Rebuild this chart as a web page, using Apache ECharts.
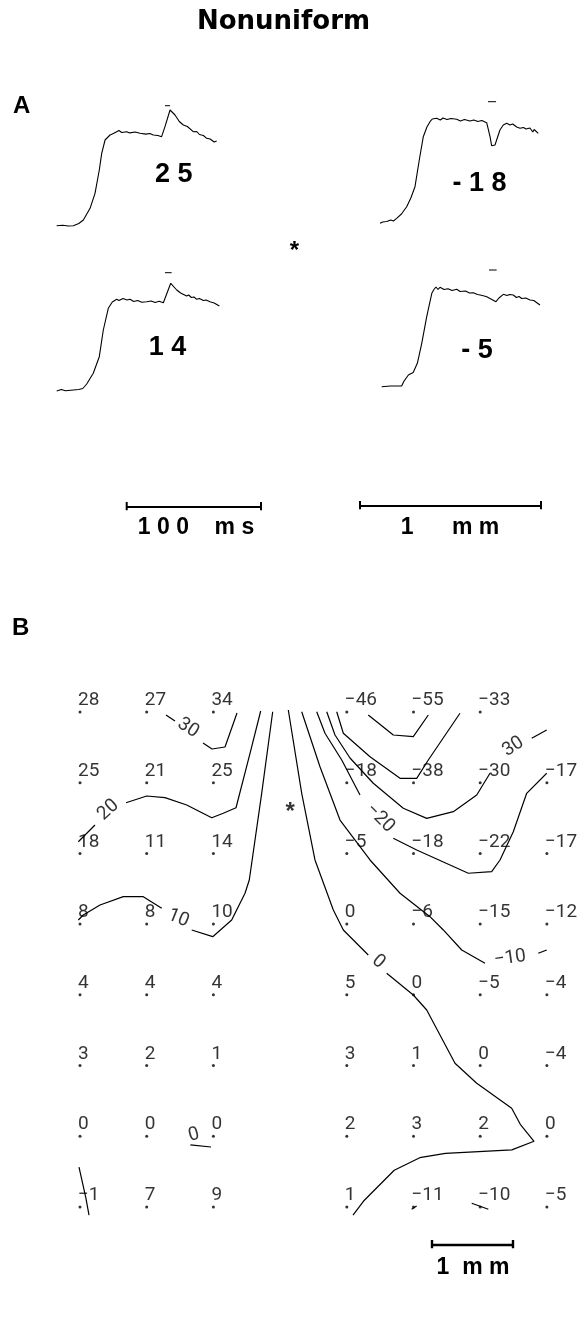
<!DOCTYPE html>
<html><head><meta charset="utf-8">
<script src="https://cdn.jsdelivr.net/npm/echarts@6/dist/echarts.min.js"></script>
<style>html,body{margin:0;padding:0;background:#fff}#c{width:586px;height:1341px}</style>
</head><body><div id="c"></div>
<script>
// ---------- Panel A: optical traces (time in ms, amplitude in a.u. above baseline) ----------
const trace25 = [[3.5,-0.2],[8,0.3],[12,-0.5],[15.9,-0.2],[20,2],[23.4,5.5],[28.4,17.2],[32.1,32.2],[35.3,55.5],[37.1,72.2],[39.6,85.5],[43.3,90.5],[45,91.5],[48.3,93.8],[50,95],[52,93],[55.7,93.8],[58,92.6],[62,93.5],[65.7,92.2],[70,91.4],[73,92],[75.6,90.5],[79,90],[81.8,88.8],[84.3,98.8],[88.1,115.5],[91.8,110.5],[95,104],[98,100.5],[101,99],[105.4,93.8],[108,94],[110,91],[113,90],[115.4,87.2],[118,86.5],[121,83.5],[122.9,84.5]];
const traceM18 = [[3.0,-1.3],[5,0],[8,0.5],[11,2],[13,1],[15.4,3.7],[19,8],[22.9,15.3],[26,24],[29.1,35.3],[32.3,62],[35.3,85.3],[38,95],[40.3,100.3],[42,103],[45.3,103.7],[48,102],[50,104],[53,102.5],[56,103.5],[60.2,102.7],[63,101],[66,102.5],[70.1,101],[73,102],[76,100.5],[79,101.5],[82.6,99.3],[85.1,85.3],[86.3,76.3],[88.8,77],[92.5,92],[95,97],[97.5,98.7],[100,97],[102,98],[105,95],[107.5,93.7],[110,94.5],[112,93],[114.9,94],[117,90],[118,92.5],[121.1,88.7]];
const trace14 = [[3.5,-1],[7,0.5],[10,-0.8],[15.9,0],[20,0.5],[23,1.5],[25.9,6],[30.8,16.7],[35.3,33.3],[38.3,60],[42.0,81.7],[45,88],[48.3,90.7],[50,89.5],[53,91.5],[56,90],[58.2,90.7],[61,88.5],[64,89.5],[67,87.8],[70.7,88.3],[74,89],[77,87.5],[80,88.8],[83.1,87.3],[88.6,106.7],[93.1,100],[96,97],[100.5,94],[102,95],[104,92.5],[106,93],[108.0,90.7],[110,91.5],[113,89.5],[115,90],[117.9,88.3],[121,87],[124.9,84]];
const traceM5 = [[3.5,-0.2],[10,0.5],[18.4,0.5],[20,5],[23.4,11.5],[27,14],[30.1,23.2],[33.4,43.2],[37.1,69.8],[40.9,93.2],[42.5,97],[44,99.5],[45.5,97],[47.0,99.2],[50,97],[53,97.8],[56,96],[59.5,97.2],[62,95],[66,95.5],[69,93.5],[71.9,93.8],[75,92],[77,91.5],[80,90.5],[81.9,89.8],[88.8,84.8],[91,88.5],[94.3,92.2],[97,91],[99,92],[101.7,91.5],[104,89],[106,90],[108,88],[111,88.5],[114.2,86.5],[117,86],[121.6,81.5]];
const traceValues = [25, -18, 14, -5];
const stimulusMarks = [[[84.3,119.8],[88.1,119.8]], [[83.6,120.3],[89.6,120.3]], [[84.3,117.3],[89.3,117.3]], [[83.6,116.5],[89.3,116.5]]];
const timeBarMs = [0, 100];
const spaceBarMm = [0, 1];
const timeBarLabel = '1 0 0    m s';
const spaceBarLabelA = '1      m m';
const spaceBarLabelB = '1  m m';

// ---------- Panel B: electrode grid (rows x columns), column 4 empty ----------
const gridValues = [
  [28, 27, 34, null, -46, -55, -33, null],
  [25, 21, 25, null, -18, -38, -30, -17],
  [18, 11, 14, null, -5, -18, -22, -17],
  [8, 8, 10, null, 0, -6, -15, -12],
  [4, 4, 4, null, 5, 0, -5, -4],
  [3, 2, 1, null, 3, 1, 0, -4],
  [0, 0, 0, null, 2, 3, 2, 0],
  [-1, 7, 9, null, 1, -11, -10, -5]
];
// contour lines in grid units [column, row]; each level = list of segments
const iso30 = [[[1.289,0.042],[1.424,0.127]], [[1.844,0.438],[1.979,0.523],[2.174,0.495],[2.354,0.014]]];
const iso20 = [[[-0.025,1.835],[0.225,1.598]], [[0.690,1.283],[1.0,1.188],[1.274,1.212],[1.600,1.315],[1.975,1.495],[2.148,1.433],[2.339,1.354],[2.549,0.584],[2.709,-0.014]]];
const iso10 = [[[-0.025,2.942],[0.049,2.871],[0.300,2.730],[0.649,2.612],[0.949,2.612],[1.225,2.777]], [[1.675,3.083],[1.990,3.178],[2.274,2.942],[2.373,2.754],[2.474,2.564],[2.538,2.376],[2.724,1.150],[2.889,-0.004]]];
const iso0 = [[[3.123,-0.028],[3.324,1.150],[3.523,2.093],[3.798,2.801],[3.948,3.083],[4.322,3.437]], [[4.598,3.696],[4.997,4.003],[5.198,4.215],[5.622,4.969],[5.948,5.252],[6.472,5.605],[6.601,5.832],[6.807,6.072],[6.474,6.194],[5.478,6.242],[5.094,6.304],[4.711,6.482],[4.252,6.917],[4.093,7.115]], [[-0.015,6.436],[0.087,6.868],[0.135,7.115]], [[1.655,6.124],[1.964,6.153]]];
const isoM10 = [[[3.324,-0.004],[3.598,0.774],[3.898,1.528],[4.348,2.093],[4.798,2.564],[5.247,2.895],[5.447,3.083],[5.723,3.366],[6.072,3.554]], [[6.871,3.413],[6.997,3.366]], [[4.972,7.035],[5.047,6.988]], [[5.873,6.949],[6.122,7.034]]];
const isoM20 = [[[3.549,-0.004],[3.673,0.301],[3.924,0.679],[4.198,1.174]], [[4.697,1.786],[5.048,1.952],[5.822,2.281],[6.172,2.259],[6.297,2.093],[6.496,1.693],[6.697,1.150],[6.997,0.867]]];
const isoM30 = [[[3.699,-0.004],[3.823,0.325],[4.048,0.651],[4.397,1.008],[4.847,1.362],[5.198,1.504],[5.597,1.410],[5.948,1.174],[6.147,0.867]], [[6.772,0.372],[6.997,0.255]]];
const isoM40 = [[[3.849,-0.004],[3.948,0.301],[4.348,0.632],[4.798,0.938],[5.048,0.938],[5.222,0.679],[5.697,0.018]]];
const isoM50 = [[[4.322,0.042],[4.697,0.325],[4.997,0.349],[5.222,0.042]]];
const contourLabels = [[1.619,0.226,'30',-33],[0.424,1.386,'20',42],[1.474,2.918,'10',-22],[4.472,3.532,'0',-40],[6.447,3.484,'\u221210',8],[4.498,1.504,'\u221220',-45],[6.496,0.491,'30',33],[1.709,5.983,'0',15]];
const stimulusSite = [3.15, 1.34];

// ---------- layout ----------
const traceGrids = [
  {left: 52, top: 100.5, width: 174.2, height: 130},
  {left: 376, top: 97, width: 174.2, height: 130},
  {left: 52, top: 265, width: 174.2, height: 130},
  {left: 377, top: 261.5, width: 174.2, height: 130}
];
const grids = [], xAxes = [], yAxes = [], series = [];
function addGrid(g, xr, yr, inv) {
  grids.push(Object.assign({containLabel: false, outerBoundsMode: 'none'}, g));
  const i = grids.length - 1;
  xAxes.push({type: 'value', gridIndex: i, min: xr[0], max: xr[1], show: false, splitLine: {show: false}});
  yAxes.push({type: 'value', gridIndex: i, min: yr[0], max: yr[1], inverse: !!inv, show: false, splitLine: {show: false}});
  return i;
}
function line(i, data, w) {
  series.push({type: 'line', xAxisIndex: i, yAxisIndex: i, data: data, symbol: 'none', silent: true,
    lineStyle: {color: '#000', width: w || 1.1}, z: 2});
}
const traces = [trace25, traceM18, trace14, traceM5];
traces.forEach((t, k) => {
  const i = addGrid(traceGrids[k], [0, 130], [-5, 125]);
  line(i, t, 1.1);
  line(i, stimulusMarks[k], 1);
});
function scaleBar(i, a, b, w) {
  line(i, [[a, 0.7], [a, -0.45], [a, 0], [b, 0], [b, 0.7], [b, -0.45]], w);
}
const gMs = addGrid({left: 126.7, top: 500, width: 134.3, height: 14}, [0, 100], [-1, 1]);
scaleBar(gMs, timeBarMs[0], timeBarMs[1], 2);
const gMmA = addGrid({left: 360, top: 499, width: 181, height: 14}, [0, 1], [-1, 1]);
scaleBar(gMmA, spaceBarMm[0], spaceBarMm[1], 2);
const gMmB = addGrid({left: 432, top: 1238, width: 81, height: 14}, [0, 1], [-1, 1]);
scaleBar(gMmB, spaceBarMm[0], spaceBarMm[1], 2.4);

// contour map
const gMap = addGrid({left: 46.65, top: 676.65, width: 533.6, height: 565.6}, [-0.5, 7.5], [-0.5, 7.5], true);
[iso30, iso20, iso10, iso0, isoM10, isoM20, isoM30, isoM40, isoM50].forEach(level => level.forEach(seg => line(gMap, seg, 1.2)));
const numFont = {fontFamily: 'Roboto', fontWeight: 'normal', fontSize: 19, color: '#000'};
const dots = [];
gridValues.forEach((row, r) => row.forEach((v, c) => { if (v !== null) dots.push({value: [c, r], name: String(v).replace('-', '\u2212')}); }));
series.push({type: 'scatter', xAxisIndex: gMap, yAxisIndex: gMap, data: dots, symbol: 'circle', symbolSize: 3,
  itemStyle: {color: '#000'}, silent: true, z: 3,
  label: Object.assign({show: true, formatter: '{b}', position: [-0.5, -10], align: 'left', verticalAlign: 'middle'}, numFont)});
series.push({type: 'scatter', xAxisIndex: gMap, yAxisIndex: gMap, symbol: 'circle', symbolSize: 1, silent: true, z: 3,
  itemStyle: {color: 'rgba(0,0,0,0)'},
  data: contourLabels.map(d => ({value: [d[0], d[1]], name: d[2], label: {rotate: d[3]}})),
  label: Object.assign({show: true, formatter: '{b}', position: 'inside', align: 'center', verticalAlign: 'middle'}, numFont)});
series.push({type: 'scatter', xAxisIndex: gMap, yAxisIndex: gMap, symbol: 'circle', symbolSize: 1, silent: true, z: 3,
  itemStyle: {color: 'rgba(0,0,0,0)'}, data: [{value: stimulusSite, name: '*'}],
  label: {show: true, formatter: '{b}', position: 'inside', align: 'center', verticalAlign: 'middle', offset: [0, 5.3],
    fontFamily: 'Liberation Sans', fontWeight: 'bold', fontSize: 24, color: '#000'}});

// text
const bold = (s) => 'bold ' + s + 'px "Liberation Sans", Arial, sans-serif';
function txt(t, x, y, font, align) {
  return {type: 'text', silent: true, style: {text: t, x: x, y: y, font: font, fill: '#000', textAlign: align || 'center', textVerticalAlign: 'middle'}};
}
const labelPos = [[173.8, 175], [479.5, 183.3], [167.5, 348], [477, 350.5]];
const graphic = [
  txt('Nonuniform', 283.5, 22.5, 'bold 26px "DejaVu Sans", sans-serif'),
  txt('A', 13, 106.7, bold(24), 'left'),
  txt('B', 12, 628, bold(24), 'left'),
  txt('*', 294.3, 245.8 + 5.3, bold(24)),
  txt(timeBarLabel, 196, 528, bold(23)),
  txt(spaceBarLabelA, 450, 528, bold(23)),
  txt(spaceBarLabelB, 473, 1268, bold(23))
];
traceValues.forEach((v, k) => graphic.push(txt(String(v).split('').join(' '), labelPos[k][0], labelPos[k][1], bold(27))));

const chart = echarts.init(document.getElementById('c'), null, {renderer: 'canvas'});
chart.setOption({animation: false, backgroundColor: '#fff', grid: grids, xAxis: xAxes, yAxis: yAxes, series: series, graphic: graphic});
</script></body></html>
